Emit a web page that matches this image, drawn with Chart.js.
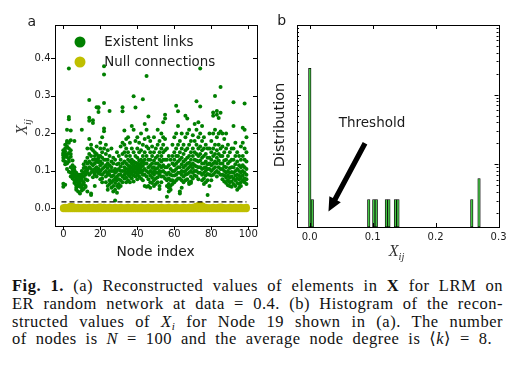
<!DOCTYPE html>
<html>
<head>
<meta charset="utf-8">
<script src="https://cdn.jsdelivr.net/npm/chart.js@4.4.0/dist/chart.umd.min.js"></script>
<style>
  html, body { margin:0; padding:0; background:#fff; }
  body { width:511px; height:381px; position:relative; overflow:hidden; font-family:"DejaVu Sans", sans-serif; color:#1a1a1a; }
  canvas { position:absolute; top:0; }
  .t { position:absolute; white-space:nowrap; line-height:1; }
  .c { transform:translate(-50%,-50%); }
  .rot { transform:translate(-50%,-50%) rotate(-90deg); }
  .math { font-family:"Liberation Serif", "DejaVu Serif", serif; font-style:italic; color:#333; font-size:16px; }
  .math sub { font-size:10.5px; vertical-align:-4px; line-height:0; }
  .dot { position:absolute; border-radius:50%; width:11px; height:11px; transform:translate(-50%,-50%); }
  .cap { position:absolute; left:12px; width:491px; font-family:"Liberation Serif","DejaVu Serif",serif; font-size:16.5px; letter-spacing:0.5px; line-height:17.8px; height:17.8px; color:#111; text-align:justify; text-align-last:justify; }
  .cap sub { font-size:11px; vertical-align:-3px; line-height:0; }
</style>
</head>
<body>
<canvas id="ca" width="270" height="260" style="left:0;width:270px;height:260px"></canvas>
<canvas id="cb" width="241" height="260" style="left:270px;width:241px;height:260px"></canvas>

<div class="t c" style="left:31.7px;top:20.5px;font-size:14px">a</div>
<div class="t c" style="left:281.7px;top:20px;font-size:14px">b</div>
<div class="t rot math" style="left:21.5px;top:126.5px">X<sub>ij</sub></div>
<div class="t c" style="left:155.5px;top:251.5px;font-size:13.8px">Node index</div>
<div class="t rot" style="left:279px;top:124.5px;font-size:14.5px">Distribution</div>
<div class="t c math" style="left:396.5px;top:251px">X<sub>ij</sub></div>
<div class="t c" style="left:372px;top:123.3px;font-size:13.5px">Threshold</div>

<div class="dot" style="left:80px;top:42px;background:#008000"></div>
<div class="t" style="left:104.3px;top:42px;transform:translateY(-50%);font-size:13.4px">Existent links</div>
<div class="dot" style="left:80px;top:62px;background:#bfbf00"></div>
<div class="t" style="left:104.3px;top:62px;transform:translateY(-50%);font-size:13.4px">Null connections</div>

<div class="cap" style="top:277px"><b>Fig. 1.</b> (a) Reconstructed values of elements in <b>X</b> for LRM on</div>
<div class="cap" style="top:294.7px">ER random network at data = 0.4. (b) Histogram of the recon-</div>
<div class="cap" style="top:312.5px">structed values of <i>X</i><sub><i>i</i></sub> for Node 19 shown in (a). The number</div>
<div class="cap" style="top:330.3px;width:480px">of nodes is <i>N</i> = 100 and the average node degree is ⟨<i>k</i>⟩ = 8.</div>

<script>
// ---------- Panel (a) data ----------
const nodeIndex = Array.from({length:100}, (_, i) => i);
const linkValues = [
  [0.058,0.066,0.142,0.148,0.135,0.155,0.128,0.145],
  [0.063,0.152,0.170,0.138,0.125,0.118,0.160,0.145],
  [0.210,0.180,0.165,0.143,0.120,0.105,0.137,0.175],
  [0.373,0.244,0.238,0.160,0.148,0.132,0.098,0.175,0.125],
  [0.208,0.182,0.155,0.138,0.110,0.095,0.085,0.145],
  [0.105,0.098,0.092,0.080,0.115,0.128,0.088],
  [0.102,0.092,0.075,0.180,0.110,0.085,0.068],
  [0.055,0.062,0.080,0.095,0.085,0.072,0.050],
  [0.070,0.065,0.088,0.045,0.078,0.090,0.060],
  [0.090,0.085,0.075,0.068,0.058,0.040,0.082],
  [0.210,0.090,0.082,0.075,0.062,0.048,0.055,0.100],
  [0.118,0.095,0.085,0.065,0.052,0.108,0.070],
  [0.125,0.110,0.100,0.090,0.078,0.057,0.060],
  [0.160,0.135,0.120,0.104,0.095,0.075,0.045],
  [0.289,0.242,0.234,0.185,0.145,0.125,0.110,0.090],
  [0.170,0.160,0.140,0.120,0.105,0.095,0.036,0.040],
  [0.235,0.228,0.155,0.130,0.115,0.100,0.083],
  [0.150,0.140,0.130,0.120,0.105,0.095,0.090,0.060],
  [0.270,0.165,0.145,0.125,0.110,0.100,0.085,0.130],
  [0.094,0.102,0.106,0.123,0.127,0.136,0.140,0.257,0.268,0.270],
  [0.175,0.160,0.140,0.125,0.115,0.100,0.092,0.078],
  [0.190,0.150,0.135,0.120,0.105,0.090,0.080,0.070],
  [0.379,0.357,0.281,0.213,0.206,0.160,0.130,0.110,0.095],
  [0.170,0.145,0.130,0.115,0.100,0.085,0.070],
  [0.155,0.130,0.120,0.108,0.095,0.090,0.060,0.050],
  [0.260,0.140,0.115,0.100,0.090,0.075,0.065],
  [0.160,0.125,0.110,0.100,0.085,0.070,0.055],
  [0.135,0.120,0.100,0.088,0.075,0.060,0.045],
  [0.130,0.105,0.095,0.080,0.068,0.050,0.021],
  [0.150,0.118,0.100,0.085,0.075,0.060,0.042],
  [0.140,0.120,0.105,0.090,0.078,0.065,0.055],
  [0.165,0.130,0.112,0.100,0.090,0.075,0.060],
  [0.270,0.259,0.175,0.145,0.120,0.100,0.085,0.070],
  [0.208,0.170,0.150,0.125,0.110,0.100,0.090,0.080],
  [0.185,0.160,0.140,0.120,0.105,0.095,0.082,0.070],
  [0.190,0.150,0.130,0.115,0.105,0.098,0.090,0.075],
  [0.175,0.140,0.125,0.112,0.103,0.095,0.085,0.070],
  [0.220,0.160,0.130,0.120,0.110,0.100,0.092,0.080],
  [0.299,0.210,0.150,0.125,0.115,0.105,0.098,0.088,0.072],
  [0.269,0.180,0.140,0.122,0.112,0.105,0.095,0.085],
  [0.190,0.160,0.135,0.120,0.115,0.108,0.100,0.090,0.078],
  [0.175,0.150,0.128,0.118,0.110,0.102,0.095,0.085],
  [0.200,0.155,0.130,0.120,0.112,0.104,0.096,0.080],
  [0.291,0.170,0.140,0.125,0.113,0.100,0.090,0.075],
  [0.225,0.185,0.150,0.130,0.120,0.105,0.090,0.060],
  [0.353,0.210,0.165,0.140,0.120,0.100,0.085,0.058],
  [0.245,0.190,0.160,0.130,0.110,0.095,0.078,0.060],
  [0.180,0.150,0.130,0.115,0.100,0.088,0.070,0.055],
  [0.165,0.140,0.120,0.108,0.095,0.082,0.068],
  [0.190,0.150,0.128,0.110,0.100,0.090,0.075,0.060],
  [0.160,0.135,0.120,0.105,0.095,0.080,0.065],
  [0.210,0.170,0.140,0.120,0.108,0.095,0.083,0.070],
  [0.180,0.150,0.130,0.115,0.100,0.090,0.060,0.052],
  [0.200,0.160,0.140,0.125,0.110,0.098,0.085,0.070],
  [0.230,0.190,0.170,0.150,0.130,0.115,0.100,0.085],
  [0.250,0.240,0.185,0.155,0.130,0.110,0.095,0.080],
  [0.160,0.130,0.110,0.090,0.075,0.060,0.031],
  [0.140,0.115,0.095,0.080,0.065,0.055,0.045],
  [0.130,0.105,0.090,0.075,0.060,0.050],
  [0.170,0.140,0.120,0.100,0.088,0.075,0.065],
  [0.190,0.150,0.130,0.115,0.100,0.088,0.070],
  [0.274,0.200,0.160,0.140,0.120,0.105,0.090,0.075],
  [0.259,0.220,0.170,0.140,0.125,0.110,0.095,0.080],
  [0.180,0.150,0.130,0.110,0.095,0.080,0.045,0.040],
  [0.200,0.160,0.135,0.118,0.100,0.090,0.075,0.055],
  [0.170,0.145,0.125,0.110,0.098,0.085,0.070],
  [0.247,0.190,0.155,0.130,0.115,0.100,0.090,0.075],
  [0.240,0.200,0.160,0.135,0.120,0.105,0.092,0.078],
  [0.210,0.170,0.140,0.122,0.110,0.095,0.070,0.065],
  [0.180,0.150,0.130,0.115,0.100,0.085,0.068,0.072],
  [0.195,0.160,0.140,0.120,0.108,0.095,0.080],
  [0.225,0.180,0.150,0.130,0.115,0.100,0.088],
  [0.286,0.210,0.170,0.145,0.128,0.112,0.100,0.085],
  [0.230,0.190,0.160,0.140,0.125,0.110,0.095,0.078],
  [0.373,0.272,0.200,0.165,0.145,0.128,0.110,0.095],
  [0.220,0.180,0.155,0.135,0.120,0.105,0.090,0.075],
  [0.190,0.160,0.140,0.120,0.108,0.095,0.080,0.065],
  [0.170,0.145,0.125,0.110,0.100,0.088,0.070],
  [0.160,0.135,0.118,0.105,0.092,0.075,0.036],
  [0.200,0.160,0.135,0.120,0.105,0.090,0.060],
  [0.180,0.150,0.130,0.115,0.100,0.088,0.075],
  [0.256,0.247,0.200,0.160,0.140,0.120,0.105,0.090],
  [0.300,0.210,0.170,0.145,0.125,0.110,0.095],
  [0.260,0.250,0.190,0.155,0.135,0.120,0.100,0.085],
  [0.241,0.200,0.170,0.145,0.128,0.110,0.095],
  [0.324,0.255,0.205,0.160,0.140,0.120,0.105,0.090],
  [0.200,0.165,0.140,0.120,0.105,0.090,0.078],
  [0.185,0.150,0.128,0.112,0.100,0.088,0.072],
  [0.200,0.160,0.130,0.110,0.095,0.082,0.068],
  [0.170,0.140,0.120,0.100,0.088,0.075,0.062],
  [0.150,0.125,0.108,0.095,0.082,0.070,0.060],
  [0.160,0.130,0.110,0.097,0.085,0.072,0.058],
  [0.283,0.220,0.160,0.130,0.110,0.095,0.080,0.065],
  [0.175,0.140,0.118,0.100,0.088,0.075,0.060],
  [0.150,0.125,0.105,0.090,0.080,0.068,0.050],
  [0.140,0.115,0.100,0.088,0.078,0.065,0.055],
  [0.165,0.130,0.110,0.095,0.082,0.070,0.060],
  [0.215,0.175,0.140,0.115,0.100,0.088,0.075],
  [0.280,0.210,0.160,0.130,0.110,0.095,0.080,0.070],
  [0.190,0.150,0.125,0.105,0.090,0.078,0.065]
];
const nullLow = -0.001;
const nullTop = [
  0.002,0.003,0.002,0.004,0.006,0.005,0.003,0.002,0.003,0.002,
  0.002,0.003,0.002,0.002,0.003,0.002,0.003,0.002,0.002,0.003,
  0.004,0.002,0.003,0.002,0.002,0.003,0.002,0.002,0.003,0.002,
  0.002,0.003,0.002,0.002,0.002,0.003,0.002,0.002,0.003,0.002,
  0.002,0.002,0.003,0.002,0.002,0.002,0.003,0.002,0.002,0.002,
  0.003,0.002,0.002,0.003,0.002,0.002,0.002,0.003,0.002,0.002,
  0.002,0.003,0.002,0.002,0.002,0.003,0.002,0.002,0.003,0.002,
  0.003,0.004,0.006,0.008,0.009,0.007,0.004,0.003,0.002,0.002,
  0.002,0.003,0.002,0.002,0.003,0.004,0.003,0.002,0.002,0.002,
  0.003,0.002,0.002,0.003,0.002,0.002,0.003,0.002,0.002,0.003
];
const thresholdValue = 0.0176;
const thresholdX = [-1, 99];
const xTicksA = [0, 20, 40, 60, 80, 100];
const yTicksA = [0.0, 0.1, 0.2, 0.3, 0.4];

// ---------- Panel (b) data (histogram of node 19) ----------
const binCenters = [0.0003, 0.0043, 0.0939, 0.1019, 0.1059, 0.1219, 0.1259, 0.1363, 0.1403, 0.2575, 0.2690];
const binDensity = [239, 3.1, 3.1, 3.1, 3.1, 3.1, 3.1, 3.1, 3.1, 3.1, 6.2];
const xTicksB = [0.0, 0.1, 0.2, 0.3];
const yMajorB = [10, 100, 1000];
const yMinorB = [2,3,4,5,6,7,8,9,20,30,40,50,60,70,80,90,200,300,400,500,600,700,800,900];
const arrowTail = {x: 0.088, y: 20};
const arrowTip = {x: 0.030, y: 2.08};

// ---------- build ----------
const linkPoints = [];
linkValues.forEach((vals, i) => vals.forEach(v => linkPoints.push({x: nodeIndex[i], y: v})));
const nullPoints = [];
nodeIndex.forEach(i => { nullPoints.push({x: i, y: nullLow}); nullPoints.push({x: i, y: nullTop[i]}); });
const thresholdPoints = thresholdX.map(x => ({x, y: thresholdValue}));
const histPoints = binCenters.map((c, i) => ({x: c, y: binDensity[i]}));

Chart.defaults.font.family = '"DejaVu Sans", sans-serif';
Chart.defaults.color = '#1a1a1a';

const frameTicks = {
  id: 'frameTicks',
  afterDraw(chart, args, opts) {
    const {ctx, chartArea: a, scales} = chart;
    ctx.save();
    ctx.strokeStyle = '#000';
    ctx.lineWidth = 1;
    ctx.beginPath();
    for (const m of opts.marks) {
      const sc = scales[m.axis];
      for (const v of m.values) {
        const p = Math.round(sc.getPixelForValue(v)) + 0.5;
        if (m.axis === 'x') {
          if (m.bottom) { ctx.moveTo(p, a.bottom); ctx.lineTo(p, a.bottom + m.bottom); }
          if (m.top) { ctx.moveTo(p, a.top); ctx.lineTo(p, a.top + m.top); }
        } else {
          if (m.left) { ctx.moveTo(a.left, p); ctx.lineTo(a.left + m.left, p); }
          if (m.right) { ctx.moveTo(a.right, p); ctx.lineTo(a.right - m.right, p); }
        }
      }
    }
    ctx.stroke();
    ctx.strokeRect(Math.round(a.left) + 0.5, Math.round(a.top) + 0.5, Math.round(a.right - a.left), Math.round(a.bottom - a.top));
    ctx.restore();
  }
};

const arrowPlugin = {
  id: 'arrowPlugin',
  afterDatasetsDraw(chart, args, opts) {
    if (!opts.tail) return;
    const {ctx, scales: {x, y}} = chart;
    const x0 = x.getPixelForValue(opts.tail.x), y0 = y.getPixelForValue(opts.tail.y);
    const x1 = x.getPixelForValue(opts.tip.x), y1 = y.getPixelForValue(opts.tip.y);
    const dx = x1 - x0, dy = y1 - y0, L = Math.hypot(dx, dy);
    const ux = dx / L, uy = dy / L, nx = -uy, ny = ux;
    const sw = 2.6, hw = 6.5, hl = 14;
    const bx = x1 - ux * hl, by = y1 - uy * hl;
    ctx.save();
    ctx.fillStyle = '#000';
    ctx.beginPath();
    ctx.moveTo(x0 + nx * sw, y0 + ny * sw);
    ctx.lineTo(bx + nx * sw, by + ny * sw);
    ctx.lineTo(bx + nx * hw, by + ny * hw);
    ctx.lineTo(x1, y1);
    ctx.lineTo(bx - nx * hw, by - ny * hw);
    ctx.lineTo(bx - nx * sw, by - ny * sw);
    ctx.lineTo(x0 - nx * sw, y0 - ny * sw);
    ctx.closePath();
    ctx.fill();
    ctx.restore();
  }
};

const noGrid = { display: false, drawTicks: false, tickLength: 0 };

new Chart(document.getElementById('ca'), {
  type: 'scatter',
  data: {
    datasets: [
      { label: 'Null connections', data: nullPoints, backgroundColor: '#bfbf00', borderWidth: 0, pointRadius: 3.4, order: 3 },
      { label: 'Existent links', data: linkPoints, backgroundColor: '#008000', borderWidth: 0, pointRadius: 2, order: 2 },
      { type: 'line', label: 'Threshold', data: thresholdPoints, borderColor: '#000', borderWidth: 1.3, borderDash: [5, 3], pointRadius: 0, fill: false, order: 1 }
    ]
  },
  options: {
    responsive: false, animation: false, events: [],
    layout: { padding: { top: 25, right: 13, left: 0, bottom: 0 } },
    plugins: {
      legend: { display: false }, tooltip: { enabled: false },
      frameTicks: { marks: [
        { axis: 'x', values: xTicksA, bottom: 4, top: 4 },
        { axis: 'y', values: yTicksA, left: -4, right: 4 }
      ] }
    },
    scales: {
      x: {
        type: 'linear', min: -4.5, max: 104.7,
        grid: noGrid, border: { display: false },
        ticks: { font: { size: 10 }, padding: 2, maxRotation: 0, autoSkip: false },
        afterBuildTicks: s => { s.ticks = xTicksA.map(v => ({ value: v })); },
        afterFit: s => { s.height = 34; }
      },
      y: {
        type: 'linear', min: -0.047, max: 0.489,
        grid: noGrid, border: { display: false },
        ticks: { font: { size: 10 }, padding: 4.5, callback: v => v.toFixed(1) },
        afterBuildTicks: s => { s.ticks = yTicksA.map(v => ({ value: v })); },
        afterFit: s => { s.width = 55; }
      }
    }
  },
  plugins: [frameTicks]
});

new Chart(document.getElementById('cb'), {
  type: 'bar',
  data: {
    datasets: [
      { label: 'Node 19', data: histPoints, backgroundColor: '#44c444', borderColor: '#000', borderWidth: 0.8, barThickness: 2.5, borderSkipped: false }
    ]
  },
  options: {
    responsive: false, animation: false, events: [],
    layout: { padding: { top: 25, right: 12, left: 0, bottom: 0 } },
    plugins: {
      legend: { display: false }, tooltip: { enabled: false },
      frameTicks: { marks: [
        { axis: 'x', values: xTicksB, bottom: -4, top: 4 },
        { axis: 'y', values: yMajorB, left: 4, right: 4 },
        { axis: 'y', values: yMinorB, left: 2, right: 2 }
      ] },
      arrowPlugin: { tail: arrowTail, tip: arrowTip }
    },
    scales: {
      x: {
        type: 'linear', min: -0.02, max: 0.3, offset: false,
        grid: noGrid, border: { display: false },
        ticks: { font: { size: 10 }, padding: 4.5, maxRotation: 0, autoSkip: false, callback: v => v.toFixed(1) },
        afterBuildTicks: s => { s.ticks = xTicksB.map(v => ({ value: v })); },
        afterFit: s => { s.height = 33; }
      },
      y: {
        type: 'logarithmic', min: 1.25, max: 1000,
        grid: noGrid, border: { display: false },
        ticks: { display: false },
        afterFit: s => { s.width = 27; }
      }
    }
  },
  plugins: [frameTicks, arrowPlugin]
});
</script>
</body>
</html>
